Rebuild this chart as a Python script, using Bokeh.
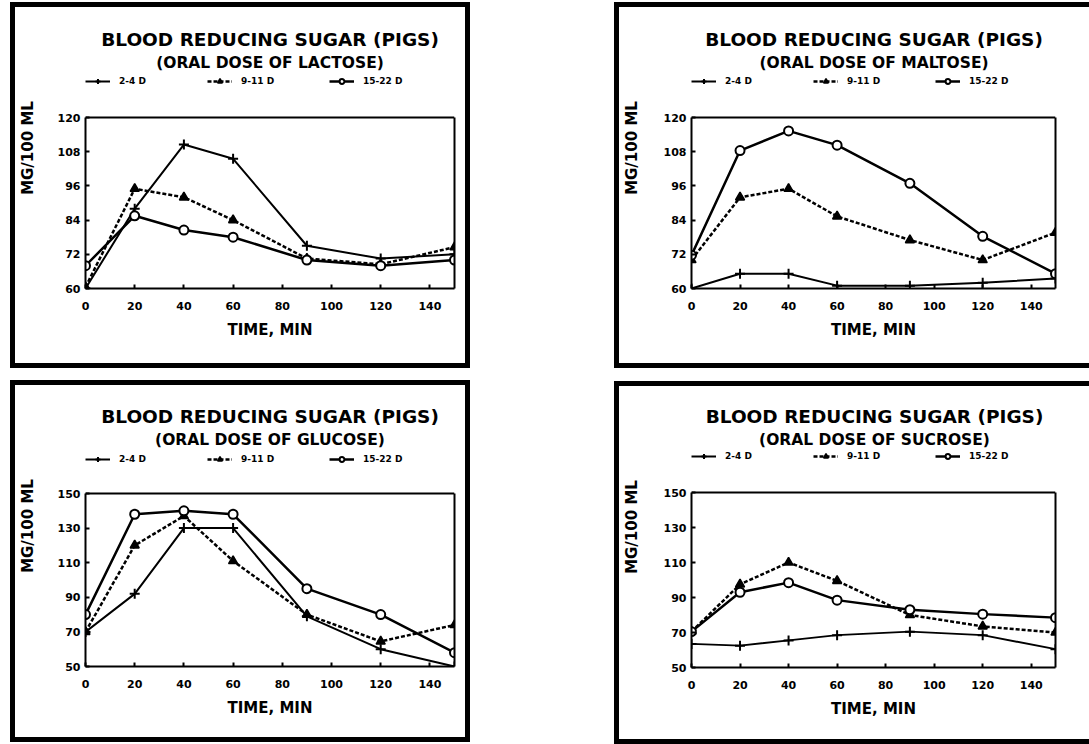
from bokeh.plotting import figure
from bokeh.models import (FixedTicker, Range1d, Legend, LegendItem, Label, Spacer, Row, Column,
                          LinearAxis, Span)
from bokeh.embed import file_html
from bokeh.resources import INLINE

# ---------------- data ----------------
times = [0, 20, 40, 60, 90, 120, 150]
x_ticks = [0, 20, 40, 60, 80, 100, 120, 140]
series_names = ["2-4 D", "9-11 D", "15-22 D"]

title_text = "BLOOD REDUCING SUGAR (PIGS)"
x_label = "TIME, MIN"
y_label = "MG/100 ML"

lactose_sub = "(ORAL DOSE OF LACTOSE)"
lactose_2_4 = [60, 88, 110.5, 105.5, 75, 70.5, 72]
lactose_9_11 = [60.5, 95, 92, 84, 70.5, 68.5, 74.5]
lactose_15_22 = [68, 85.5, 80.5, 78, 70, 68, 70]
lactose_yticks = [60, 72, 84, 96, 108, 120]

maltose_sub = "(ORAL DOSE OF MALTOSE)"
maltose_2_4 = [60, 65.2, 65.2, 61, 61, 62, 63.5]
maltose_9_11 = [70, 92, 95, 85.3, 77, 70, 79.6]
maltose_15_22 = [71.7, 108.4, 115.3, 110.3, 96.9, 78.3, 65.2]
maltose_yticks = [60, 72, 84, 96, 108, 120]

glucose_sub = "(ORAL DOSE OF GLUCOSE)"
glucose_2_4 = [70, 92, 130, 130, 79, 60, 50]
glucose_9_11 = [70, 120, 137, 111, 80, 64.5, 74]
glucose_15_22 = [80, 138, 140, 138, 95, 80, 58]
glucose_yticks = [50, 70, 90, 110, 130, 150]

sucrose_sub = "(ORAL DOSE OF SUCROSE)"
sucrose_2_4 = [63.5, 62.5, 65.5, 68.5, 70.5, 68.5, 60.5]
sucrose_9_11 = [70.5, 97.5, 110, 99.5, 80, 73.5, 70]
sucrose_15_22 = [70.5, 93, 98.5, 88.5, 83, 80.5, 78.5]
sucrose_yticks = [50, 70, 90, 110, 130, 150]

FONT = "DejaVu Sans"


def make_panel(sub, d24, d911, d1522, yticks, width, left, right, header, box_h, bottom,
               title_up, sub_up, legend_up, ylabel_standoff, right_border=True):
    """header: pixels between figure top and plot-box top (title area inside the frame)."""
    height = header + box_h + bottom
    y0, y1 = yticks[0], yticks[-1]
    y_top = y1 + (y1 - y0) * header / box_h
    fw = width - left - right
    p = figure(width=width, height=height, output_backend="svg", toolbar_location=None,
               title=None,
               x_range=Range1d(0, 150), y_range=Range1d(y0, y_top),
               min_border_left=left, min_border_right=right,
               min_border_top=0, min_border_bottom=bottom)
    p.background_fill_color = "white"
    p.border_fill_color = "white"
    p.outline_line_color = None
    p.xgrid.visible = False
    p.ygrid.visible = False

    p.xaxis.ticker = FixedTicker(ticks=x_ticks, minor_ticks=[])
    p.yaxis.ticker = FixedTicker(ticks=yticks, minor_ticks=[])
    p.yaxis.bounds = (y0, y1)
    for ax in (p.xaxis[0], p.yaxis[0]):
        ax.axis_line_width = 2
        ax.axis_line_color = "black"
        ax.major_tick_line_width = 2
        ax.major_tick_in = 4
        ax.major_tick_out = 0
        ax.minor_tick_line_color = None
        ax.major_label_text_font = FONT
        ax.major_label_text_font_style = "bold"
        ax.major_label_text_font_size = "11px"
        ax.major_label_text_color = "black"
        ax.axis_label_text_font = FONT
        ax.axis_label_text_font_style = "bold"
        ax.axis_label_text_font_size = "15px"
        ax.axis_label_text_color = "black"
    p.xaxis.axis_label = x_label
    p.yaxis.axis_label = y_label
    p.xaxis.major_label_standoff = 13
    p.xaxis.axis_label_standoff = 8
    p.yaxis.major_label_standoff = 5
    p.yaxis.axis_label_standoff = ylabel_standoff

    # right and top edges of the plot box
    rax = LinearAxis(bounds=(y0, y1), ticker=FixedTicker(ticks=[], minor_ticks=[]),
                     axis_line_width=2, axis_line_color="black",
                     major_tick_line_color=None, minor_tick_line_color=None)
    p.add_layout(rax, "right")
    p.add_layout(Span(location=y1, dimension="width", line_color="black", line_width=2))

    l1 = p.line(times, d24, line_width=2, color="black")
    m1 = p.scatter(times, d24, marker="cross", size=10, line_width=2, color="black")
    l2 = p.line(times, d911, line_width=2.5, color="black", line_dash="4 2")
    m2 = p.scatter(times, d911, marker="triangle", size=9, line_width=1.5,
                   line_color="black", fill_color="black")
    l3 = p.line(times, d1522, line_width=2.5, color="black")
    m3 = p.scatter(times, d1522, marker="circle", size=9, line_width=2,
                   line_color="black", fill_color="white")

    items = [LegendItem(label=series_names[0], renderers=[l1, m1]),
             LegendItem(label=series_names[1], renderers=[l2, m2]),
             LegendItem(label=series_names[2], renderers=[l3, m3])]
    legend = Legend(items=items, orientation="horizontal",
                    location=(0, box_h + legend_up - 6),
                    border_line_color=None, background_fill_alpha=0,
                    padding=0, margin=0, spacing=0,
                    glyph_width=25, glyph_height=12, label_height=12,
                    label_standoff=9, label_width=88,
                    label_text_font=FONT, label_text_font_style="bold",
                    label_text_font_size="9px", label_text_color="black")
    p.add_layout(legend)

    p.add_layout(Label(x=fw / 2, y=box_h + title_up, x_units="screen", y_units="screen",
                       text=title_text, text_align="center", text_baseline="alphabetic",
                       text_font=FONT, text_font_style="bold", text_font_size="18.5px",
                       text_color="black"))
    p.add_layout(Label(x=fw / 2, y=box_h + sub_up, x_units="screen", y_units="screen",
                       text=sub, text_align="center", text_baseline="alphabetic",
                       text_font=FONT, text_font_style="bold", text_font_size="15.5px",
                       text_color="black"))

    border = "5px solid black"
    if right_border:
        st = {"border": border, "box-sizing": "content-box"}
    else:
        st = {"border-top": border, "border-left": border, "border-bottom": border,
              "box-sizing": "content-box"}
    return Column(children=[p], styles=st)


p1 = make_panel(lactose_sub, lactose_2_4, lactose_9_11, lactose_15_22, lactose_yticks,
                450, 70, 11, 110, 171, 75, 78, 55, 36, 18)
p2 = make_panel(maltose_sub, maltose_2_4, maltose_9_11, maltose_15_22, maltose_yticks,
                470, 71, 34, 110, 171, 75, 78, 55, 36, 20, right_border=False)
p3 = make_panel(glucose_sub, glucose_2_4, glucose_9_11, glucose_15_22, glucose_yticks,
                450, 70, 11, 108, 173, 71, 77, 54, 34, 18)
p4 = make_panel(sucrose_sub, sucrose_2_4, sucrose_9_11, sucrose_15_22, sucrose_yticks,
                470, 70, 34, 106, 175, 72, 76, 53, 36, 20, right_border=False)

top_row = Row(children=[Spacer(width=10, height=1), p1, Spacer(width=144, height=1), p2])
bottom_row = Row(children=[Spacer(width=10, height=1), p3, Spacer(width=144, height=1),
                           Column(children=[Spacer(width=1, height=1), p4])])
layout = Column(children=[Spacer(width=1, height=2), top_row, Spacer(width=1, height=12),
                          bottom_row])

open("out.html", "w").write(file_html(layout, INLINE))
